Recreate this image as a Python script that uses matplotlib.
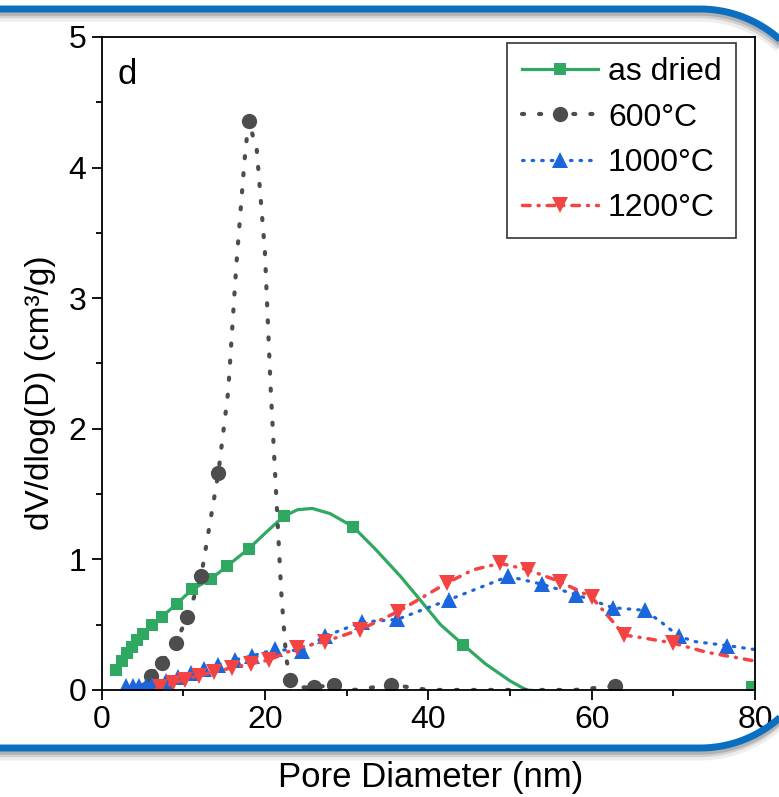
import matplotlib
matplotlib.use("Agg")
import numpy as np
import matplotlib.pyplot as plt
from matplotlib.patches import PathPatch
from matplotlib.path import Path
from matplotlib.transforms import IdentityTransform
from matplotlib.ticker import MultipleLocator

plt.rcParams['font.family'] = ['Liberation Sans', 'DejaVu Sans']

# ---------------- data ----------------
x_dried = [1.8, 2.45, 3.1, 3.7, 4.3, 5.1, 6.15, 7.4, 9.2, 11.1, 13.4, 15.4, 18.0, 20.2, 22.3,
           24.0, 25.8, 28.0, 30.8, 33.5, 36.6, 39.0, 41.5, 44.3, 47.0, 50.0, 52.0, 60.0, 70.0, 78.8, 79.6]
y_dried = [0.15, 0.22, 0.28, 0.33, 0.38, 0.43, 0.50, 0.56, 0.66, 0.77, 0.85, 0.95, 1.08, 1.21, 1.33,
           1.38, 1.39, 1.35, 1.25, 1.08, 0.87, 0.69, 0.50, 0.345, 0.20, 0.07, 0.0, -0.04, -0.04, -0.04, 0.02]
mk_dried = [0, 1, 2, 3, 4, 5, 6, 7, 8, 9, 10, 11, 12, 14, 18, 23, 30]

x_600 = [5.0, 6.0, 7.4, 9.1, 10.5, 12.2, 13.2, 14.3, 15.5, 16.5, 17.5, 18.0, 19.0, 20.0, 20.7,
         21.3, 22.0, 22.6, 23.1, 24.5, 26.0, 28.5, 31.0, 35.5, 40.0, 50.0, 58.0, 62.8, 63.5]
y_600 = [0.03, 0.11, 0.21, 0.36, 0.56, 0.87, 1.25, 1.66, 2.28, 3.25, 4.05, 4.36, 4.14, 3.36, 2.32,
         1.60, 0.75, 0.25, 0.08, 0.02, 0.02, 0.04, 0.0, 0.04, 0.0, 0.0, 0.0, 0.03, 0.0]
mk_600 = [1, 2, 3, 4, 5, 7, 11, 18, 20, 21, 23, 27]

x_1000 = [3.0, 3.8, 4.6, 5.4, 6.2, 7.9, 9.4, 11.0, 12.6, 14.3, 16.3, 18.4, 21.2, 24.5, 27.3,
          31.9, 36.2, 42.5, 49.8, 53.9, 58.1, 62.6, 66.5, 68.5, 70.7, 72.7, 76.6, 81.0]
y_1000 = [0.03, 0.03, 0.03, 0.03, 0.04, 0.07, 0.10, 0.13, 0.16, 0.19, 0.23, 0.26, 0.31, 0.30, 0.41,
          0.52, 0.54, 0.69, 0.87, 0.81, 0.73, 0.63, 0.61, 0.52, 0.41, 0.37, 0.34, 0.30]
mk_1000 = [0, 1, 2, 3, 4, 5, 6, 7, 8, 9, 10, 11, 12, 13, 14, 15, 16, 17, 18, 19, 20, 21, 22, 24, 26]

x_1200 = [6.5, 7.2, 8.7, 10.2, 11.9, 13.8, 16.0, 18.3, 20.5, 23.9, 27.3, 31.6, 36.3, 42.3, 45.5,
          48.8, 52.2, 56.1, 60.0, 62.5, 64.0, 66.2, 69.9, 74.0, 81.0]
y_1200 = [0.0, 0.02, 0.05, 0.08, 0.11, 0.14, 0.17, 0.20, 0.23, 0.32, 0.37, 0.46, 0.60, 0.82, 0.92,
          0.97, 0.92, 0.83, 0.71, 0.53, 0.42, 0.40, 0.36, 0.29, 0.21]
mk_1200 = [1, 2, 3, 4, 5, 6, 7, 8, 9, 10, 11, 12, 13, 15, 16, 17, 18, 20, 22]

labels = ["as dried", "600\u00b0C", "1000\u00b0C", "1200\u00b0C"]
x_ticks = [0, 20, 40, 60, 80]
y_ticks = [0, 1, 2, 3, 4, 5]

# ---------------- styles ----------------
c_green = '#2fa862'
c_gray = '#4d4d4d'
c_blue = '#1b66dd'
c_red = '#f44343'

styles = [
    dict(color=c_green, lw=2.3, ls='-', marker='s', ms=9),
    dict(color=c_gray, lw=3.0, ls=(0, (0.5, 3.6)), marker='o', ms=11, dash_capstyle='round'),
    dict(color=c_blue, lw=2.3, ls=(0, (0.5, 2.5)), marker='^', ms=12, dash_capstyle='round'),
    dict(color=c_red, lw=2.5, ls=(0, (2.2, 2.3, 0.3, 2.3)), marker='v', ms=12, dash_capstyle='round'),
]

fig = plt.figure(figsize=(7.79, 7.97), dpi=100)
ax = fig.add_axes([0.1303, 0.1343, 0.8389, 0.8193])

series = [(x_dried, y_dried, mk_dried), (x_600, y_600, mk_600),
          (x_1000, y_1000, mk_1000), (x_1200, y_1200, mk_1200)]
handles = []
for (xs, ys, mk), st, lab in zip(series, styles, labels):
    ax.plot(xs, ys, color=st['color'], lw=st['lw'], ls=st['ls'], marker=st['marker'],
            ms=st['ms'], mew=0, markevery=mk,
            dash_capstyle=st.get('dash_capstyle', 'butt'))
    h, = ax.plot([], [], color=st['color'], lw=st['lw'], ls=st['ls'], marker=st['marker'],
                 ms=st['ms'], mew=0, dash_capstyle=st.get('dash_capstyle', 'butt'), label=lab)
    handles.append(h)

ax.set_xlim(0, 80)
ax.set_ylim(0, 5)
ax.set_xticks(x_ticks)
ax.set_yticks(y_ticks)
ax.xaxis.set_minor_locator(MultipleLocator(10))
ax.yaxis.set_minor_locator(MultipleLocator(0.5))
ax.tick_params(which='major', direction='out', length=7, width=1.3, labelsize=23, pad=4,
               top=False, right=False)
ax.tick_params(which='minor', direction='out', length=4, width=1.3, top=False, right=False)
for sp in ax.spines.values():
    sp.set_linewidth(1.3)

ax.set_xlabel("Pore Diameter (nm)", fontsize=25)
ax.xaxis.set_label_coords(0.503, -0.1348)
ax.xaxis.label.set_va('center')
ax.set_ylabel("dV/dlog(D) (cm\u00b3/g)", fontsize=24)
ax.yaxis.set_label_coords(-0.094, 0.455)
ax.yaxis.label.set_va('center')

ax.text(0.025, 0.942, "d", transform=ax.transAxes, fontsize=25, ha='left', va='center')

leg = ax.legend(handles=handles, loc='upper right', bbox_to_anchor=(0.971, 0.991),
                borderaxespad=0, fontsize=23, numpoints=1, handlelength=2.4,
                handletextpad=0.3, labelspacing=0.48, borderpad=0.45, fancybox=False,
                frameon=True, edgecolor='black')
leg.get_frame().set_linewidth(1.2)

# ---------------- decorative rounded border (pixel coordinates) ----------------
H = 797


def border_path(top, bottom, cx, r, left=-20, n=40):
    # top, bottom in image pixels (from top); returns path in display coords (y up)
    yt, yb = H - top, H - bottom
    verts = [(left, yt), (cx, yt)]
    t = np.linspace(np.pi / 2, 0, n)
    verts += [(cx + r * np.cos(a), yt - r + r * np.sin(a)) for a in t]
    t = np.linspace(0, -np.pi / 2, n)
    verts += [(cx + r * np.cos(a), yb + r + r * np.sin(a)) for a in t]
    verts += [(left, yb)]
    return Path(verts)


for dx, dy, lw, a in [(-1, 7, 8, 0.10), (-1, 5, 6, 0.18), (0, 4, 4, 0.25)]:
    p = border_path(9 + dy, 748 + dy, 700 + dx, 120)
    fig.add_artist(PathPatch(p, transform=IdentityTransform(), fill=False,
                             ec='#555555', lw=lw, alpha=a, zorder=9))
fig.add_artist(PathPatch(border_path(9, 748, 700, 120), transform=IdentityTransform(),
                         fill=False, ec='#0a6fc0', lw=5, zorder=10, capstyle='butt'))

fig.savefig("out.png", dpi=100)
